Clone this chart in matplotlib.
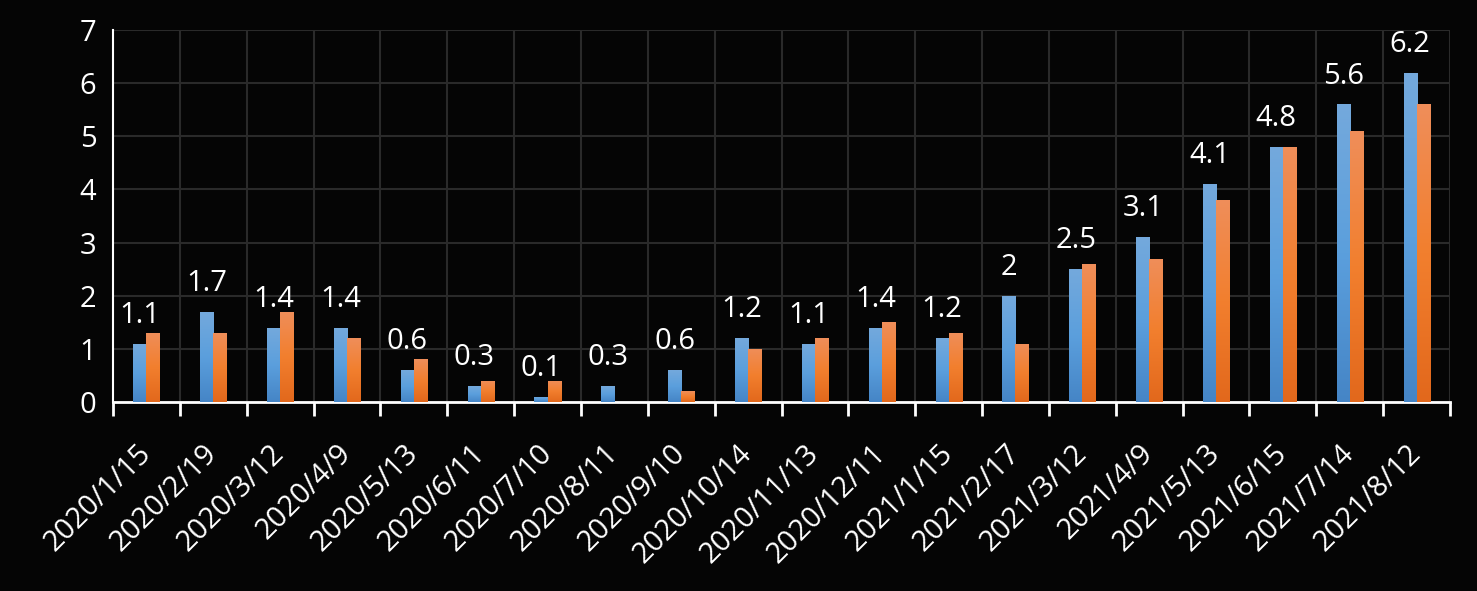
import matplotlib
matplotlib.use("Agg")
import matplotlib.pyplot as plt
import numpy as np
from matplotlib.colors import LinearSegmentedColormap

categories = ["2020/1/15", "2020/2/19", "2020/3/12", "2020/4/9", "2020/5/13", "2020/6/11",
              "2020/7/10", "2020/8/11", "2020/9/10", "2020/10/14", "2020/11/13", "2020/12/11",
              "2021/1/15", "2021/2/17", "2021/3/12", "2021/4/9", "2021/5/13", "2021/6/15",
              "2021/7/14", "2021/8/12"]
blue_vals = [1.1, 1.7, 1.4, 1.4, 0.6, 0.3, 0.1, 0.3, 0.6, 1.2, 1.1, 1.4, 1.2, 2.0, 2.5, 3.1,
             4.1, 4.8, 5.6, 6.2]
orange_vals = [1.3, 1.3, 1.7, 1.2, 0.8, 0.4, 0.4, 0.0, 0.2, 1.0, 1.2, 1.5, 1.3, 1.1, 2.6, 2.7,
               3.8, 4.8, 5.1, 5.6]
blue_labels = ["1.1", "1.7", "1.4", "1.4", "0.6", "0.3", "0.1", "0.3", "0.6", "1.2", "1.1", "1.4",
               "1.2", "2", "2.5", "3.1", "4.1", "4.8", "5.6", "6.2"]
y_ticks = [0, 1, 2, 3, 4, 5, 6, 7]

plt.rcParams['font.family'] = ['Open Sans', 'DejaVu Sans']

BG = '#050505'
fig = plt.figure(figsize=(14.77, 5.91), dpi=100, facecolor=BG)
ax = fig.add_axes([113/1477, 1-402/591, (1450-113)/1477, (402-30)/591])
ax.set_facecolor(BG)

n = len(categories)
x = np.arange(n)
w = 0.195

blue_cmap = LinearSegmentedColormap.from_list('b', ['#4585c6', '#5b9fdd', '#74a9dc'])
orange_cmap = LinearSegmentedColormap.from_list('o', ['#e2681c', '#f27f2e', '#ef8e5a'])
grad = np.linspace(0, 1, 256).reshape(-1, 1)

def draw_bars(xs, vals, cmap):
    bars = ax.bar(xs, vals, width=w, color='none', edgecolor='none', zorder=3)
    for b in bars:
        h = b.get_height()
        if h <= 0:
            continue
        x0 = b.get_x()
        im = ax.imshow(grad, cmap=cmap, origin='lower', aspect='auto',
                       extent=[x0, x0 + b.get_width(), 0, h], zorder=3)
        im.set_clip_path(b)
    return bars

bb = draw_bars(x - w/2, blue_vals, blue_cmap)
draw_bars(x + w/2, orange_vals, orange_cmap)

for b, lab in zip(bb, blue_labels):
    ax.annotate(lab, (b.get_x() + b.get_width()/2, b.get_height()), xytext=(0, 10),
                textcoords='offset points', ha='center', va='bottom', color='white',
                fontsize=21)

ax.set_xlim(-0.5, n - 0.5)
ax.set_ylim(0, 7)
ax.set_yticks(y_ticks)
ax.set_yticklabels([str(t) for t in y_ticks], color='white', fontsize=21)
ax.tick_params(axis='y', length=0, pad=12)

ax.set_xticks(np.arange(-0.5, n, 1.0))
ax.set_xticklabels([])
ax.tick_params(axis='x', which='major', length=10, width=2, color='white', direction='out')
ax.set_xticks(x, minor=True)
ax.set_xticklabels(categories, minor=True, rotation=45, ha='right', va='center',
                   rotation_mode='anchor', color='white', fontsize=21)
ax.tick_params(axis='x', which='minor', length=0, pad=34)

ax.grid(True, which='major', color='#2a2a2a', linewidth=1.5, zorder=0)
ax.set_axisbelow(True)

for s in ['top', 'right']:
    ax.spines[s].set_visible(False)
ax.spines['left'].set_color('white')
ax.spines['left'].set_linewidth(1.5)
ax.spines['bottom'].set_color('white')
ax.spines['bottom'].set_linewidth(2)

fig.savefig('out.png', dpi=100, facecolor=BG)
